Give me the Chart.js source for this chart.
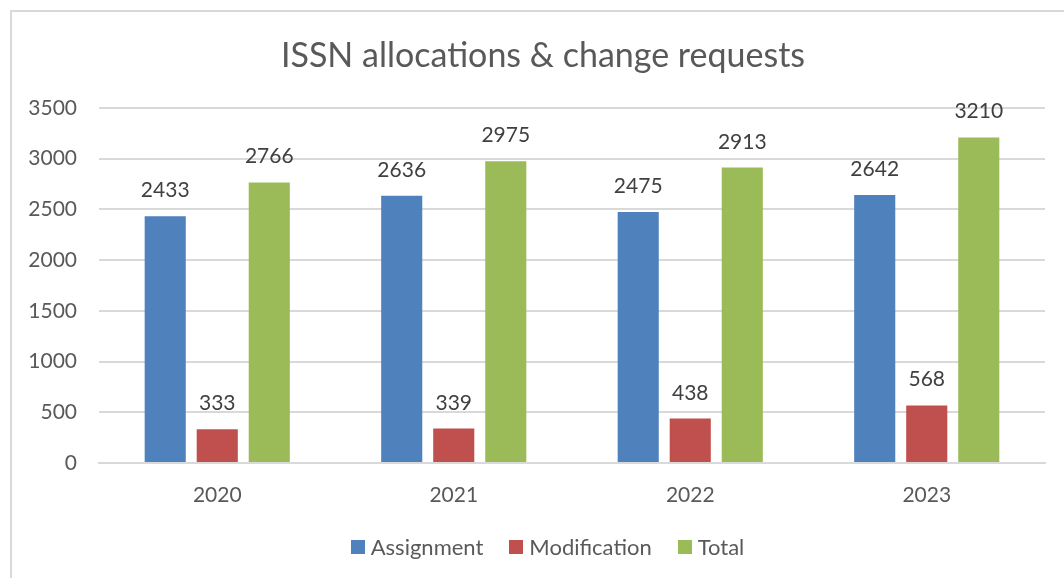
<!DOCTYPE html>
<html>
<head>
<meta charset="utf-8">
<script src="https://cdn.jsdelivr.net/npm/chart.js@4.4.1/dist/chart.umd.min.js"></script>
<style>
html,body{margin:0;padding:0;background:#fff;overflow:hidden;}
#frame{position:absolute;left:10px;top:10px;width:1100px;height:620px;border:2px solid #d9d9d9;box-sizing:border-box;}
#wrap{position:absolute;left:0;top:0;width:1064px;height:578px;}
</style>
</head>
<body>
<div id="frame"></div>
<div id="wrap"><canvas id="c" width="1064" height="578"></canvas></div>
<script>
const categories = ["2020", "2021", "2022", "2023"];
const assignment = [2433, 2636, 2475, 2642];
const modification = [333, 339, 438, 568];
const total = [2766, 2975, 2913, 3210];
const yTicks = [0, 500, 1000, 1500, 2000, 2500, 3000, 3500];
const seriesNames = ["Assignment", "Modification", "Total"];
const seriesColors = ["#4F81BD", "#C0504D", "#9BBB59"];
const titleText = "ISSN allocations & change requests";

const FONT = "Lato, 'Open Sans', sans-serif";

const labelPlugin = {
  id: 'valueLabels',
  afterDatasetsDraw(chart) {
    const ctx = chart.ctx;
    ctx.save();
    ctx.font = "21px " + FONT;
    ctx.fillStyle = "#404040";
    ctx.textAlign = "center";
    ctx.textBaseline = "alphabetic";
    chart.data.datasets.forEach((ds, i) => {
      chart.getDatasetMeta(i).data.forEach((bar, j) => {
        ctx.fillText(String(ds.data[j]), bar.x, bar.y - 19);
      });
    });
    ctx.restore();
  }
};

const titleLegendPlugin = {
  id: 'titleLegend',
  afterDraw(chart) {
    const ctx = chart.ctx;
    ctx.save();
    // title
    ctx.font = "34px " + FONT;
    ctx.fillStyle = "#595959";
    ctx.textAlign = "center";
    ctx.textBaseline = "middle";
    ctx.fillText(titleText, 543, 56);
    // legend
    ctx.font = "22px " + FONT;
    ctx.textAlign = "left";
    const box = 14, gap = 6, spacing = 26;
    const items = chart.data.datasets.map(ds => ({
      text: ds.label, color: ds.backgroundColor, w: ctx.measureText(ds.label).width
    }));
    let totalW = 0;
    items.forEach((it, i) => { totalW += box + gap + it.w + (i < items.length - 1 ? spacing : 0); });
    let x = 547.5 - totalW / 2;
    const cy = 547;
    items.forEach(it => {
      ctx.fillStyle = it.color;
      ctx.fillRect(Math.round(x), cy - box / 2, box, box);
      ctx.fillStyle = "#595959";
      ctx.fillText(it.text, x + box + gap, cy + 1);
      x += box + gap + it.w + spacing;
    });
    ctx.restore();
  }
};

new Chart(document.getElementById('c'), {
  type: 'bar',
  data: {
    labels: categories,
    datasets: seriesNames.map((name, i) => ({
      label: name,
      data: [assignment, modification, total][i],
      backgroundColor: seriesColors[i]
    }))
  },
  options: {
    responsive: false,
    animation: false,
    devicePixelRatio: 1,
    categoryPercentage: 0.66,
    barPercentage: 0.79,
    layout: {padding: {left: 0, right: 19, top: 108, bottom: 66}},
    plugins: {
      title: {display: false},
      legend: {display: false},
      tooltip: {enabled: false}
    },
    scales: {
      x: {
        grid: {display: false, drawTicks: false},
        border: {display: true, color: '#d9d9d9', width: 2},
        ticks: {color: '#595959', font: {family: FONT, size: 21}, padding: 20},
        afterFit(s) { s.height = 49; }
      },
      y: {
        min: 0, max: 3500,
        afterBuildTicks(s) { s.ticks = yTicks.map(v => ({value: v})); },
        grid: {color: '#d9d9d9', lineWidth: 2, drawTicks: false},
        border: {display: false},
        ticks: {color: '#595959', font: {family: FONT, size: 21}, padding: 22, callback: v => String(v)},
        afterFit(s) { s.width = 99; }
      }
    }
  },
  plugins: [labelPlugin, titleLegendPlugin]
});
</script>
</body>
</html>
